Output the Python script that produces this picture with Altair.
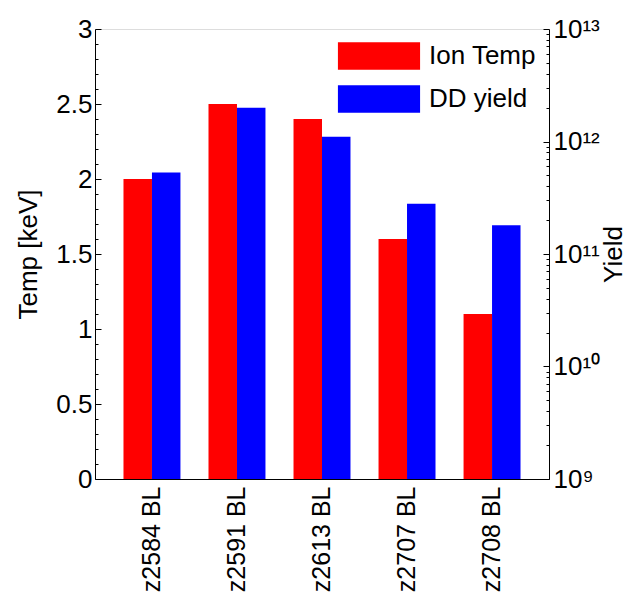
import altair as alt
import pandas as pd

shots = ["z2584 BL", "z2591 BL", "z2613 BL", "z2707 BL", "z2708 BL"]
ion_temp = [2.0, 2.5, 2.4, 1.6, 1.1]
dd_yield = [5.3e11, 2.0e12, 1.1e12, 2.8e11, 1.8e11]
series_names = ["Ion Temp", "DD yield"]
series_colors = ["#FF0000", "#0000FF"]
temp_ticks = [round(i * 0.1, 1) for i in range(31)]
yield_ticks = [k * 10.0 ** e for e in range(9, 13) for k in range(1, 10)] + [1e13]

rows = []
for s, t, y in zip(shots, ion_temp, dd_yield):
    rows.append({"shot": s, "series": "Ion Temp", "value": t})
    rows.append({"shot": s, "series": "DD yield", "value": y})
df = pd.DataFrame(rows)

FONT = "Liberation Sans"
FS = 26

x_enc = alt.X(
    "shot:N",
    sort=shots,
    title=None,
    scale=alt.Scale(paddingInner=0.33, paddingOuter=0.335),
    axis=alt.Axis(labelAngle=270, labelAlign="right", labelBaseline="middle",
                  labelPadding=7, ticks=False, labelFontSize=25, labelFont=FONT,
                  labelColor="black", domainColor="black"),
)
xoff_enc = alt.XOffset("series:N", scale=alt.Scale(domain=series_names, paddingInner=0, paddingOuter=0))
color_enc = alt.Color(
    "series:N",
    scale=alt.Scale(domain=series_names, range=series_colors),
    legend=alt.Legend(title=None, orient="none", legendX=270, legendY=13, padding=0,
                      symbolType="M-3,-1H3V1H-3Z", symbolSize=750,
                      symbolStrokeWidth=0, labelFontSize=FS, labelFont=FONT,
                      labelColor="black", labelOffset=36, rowPadding=15),
)

major_test = "abs(datum.value*2 - round(datum.value*2)) < 0.001"
temp_layer = alt.Chart(df).transform_filter(alt.datum.series == "Ion Temp").mark_bar().encode(
    x=x_enc,
    xOffset=xoff_enc,
    color=color_enc,
    y=alt.Y("value:Q", scale=alt.Scale(domain=[0, 3], nice=False),
            axis=alt.Axis(orient="left", title="Temp [keV]", values=temp_ticks, format="~g",
                          labelExpr=f"{major_test} ? datum.label : ''",
                          tickSize={"condition": {"test": major_test, "value": -6}, "value": -3},
                          labelPadding=9, labelFontSize=FS, labelFont=FONT, labelColor="black",
                          titleFontSize=FS, titleFont=FONT, titleFontWeight="normal",
                          titleColor="black", titlePadding=14, grid=False,
                          domainColor="black", tickColor="black")),
)

pow_test = "abs(log(datum.value)/LN10 - round(log(datum.value)/LN10)) < 0.000001"
sup = "['⁰','¹','²','³','⁴','⁵','⁶','⁷','⁸','⁹']"
exp_ = "round(log(datum.value)/LN10)"
label_expr = (f"{pow_test} ? ('10' + ({exp_} >= 10 ? '¹' + {sup}[{exp_} - 10] : {sup}[{exp_}])) : ''")

yield_layer = alt.Chart(df).transform_filter(alt.datum.series == "DD yield").mark_bar().encode(
    x=x_enc,
    xOffset=xoff_enc,
    color=color_enc,
    y=alt.Y("value:Q", scale=alt.Scale(type="log", domain=[1e9, 1e13], nice=False),
            axis=alt.Axis(orient="right", title="Yield", values=yield_ticks,
                          labelExpr=label_expr,
                          tickSize={"condition": {"test": pow_test, "value": -6}, "value": -3},
                          labelPadding=10, labelFontSize=FS, labelFont=FONT, labelColor="black",
                          titleFontSize=FS, titleFont=FONT, titleFontWeight="normal",
                          titleColor="black", titleAngle=270, titlePadding=27, grid=False,
                          domainColor="black", tickColor="black")),
    y2=alt.datum(1e9),
)

chart = alt.layer(temp_layer, yield_layer).resolve_scale(y="independent").properties(
    width=454, height=450,
    autosize=alt.AutoSizeParams(type="none"),
    padding={"left": 87, "top": 21, "right": 79, "bottom": 116},
).configure_view(stroke="black", strokeWidth=1).configure(background="white")

chart.save("out.html", embed_options={"renderer": "svg", "actions": False})
